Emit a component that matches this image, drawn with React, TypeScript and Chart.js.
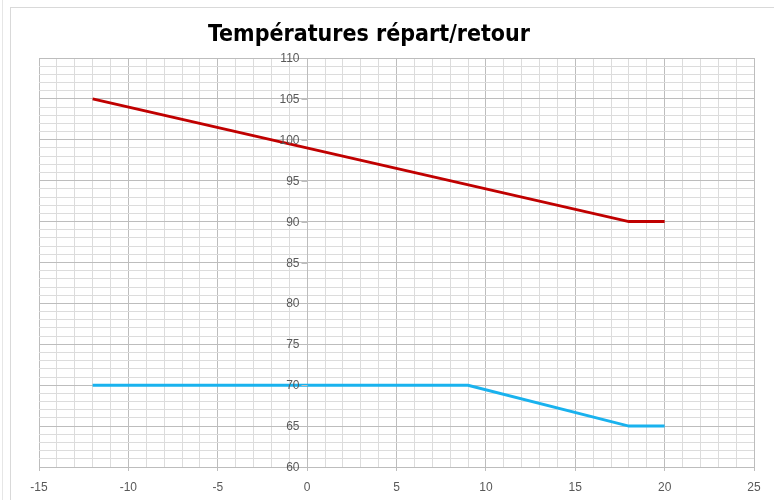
import React, { useEffect, useRef } from "react";
import { Chart, registerables } from "chart.js";

Chart.register(...registerables);

const TITLE = "Températures répart/retour";

const departX = [-12, 18, 20];
const departY = [105, 90, 90];

const retourX = [-12, 9, 18, 20];
const retourY = [70, 70, 65, 65];

const yTickLabels = [60, 65, 70, 75, 80, 85, 90, 95, 100, 105, 110];

const X_MIN = -15;
const X_MAX = 25;
const Y_MIN = 60;
const Y_MAX = 110;
const MAJOR = 5;
const MINOR = 1;

const RED = "#C00000";
const BLUE = "#19B2EE";
const MAJOR_GRID = "#bdbdbd";
const MINOR_GRID = "#dcdcdc";
const LABEL = "#595959";
const LABEL_FONT = "12px 'Liberation Sans', Arial, sans-serif";

const toPoints = (xs: number[], ys: number[]) => xs.map((x, i) => ({ x, y: ys[i] }));

const isMajor = (v: number) => Math.abs(v % MAJOR) < 1e-9;

const titlePlugin = {
  id: "customTitle",
  afterDraw(chart: any) {
    const { ctx } = chart;
    ctx.save();
    ctx.font = "bold 23px 'Liberation Sans Narrow', 'DejaVu Sans Condensed', Roboto, sans-serif";
    ctx.fillStyle = "#000000";
    ctx.textAlign = "center";
    ctx.textBaseline = "alphabetic";
    ctx.fillText(TITLE, 369, 41);
    ctx.restore();
  },
};

// y-axis labels and tick marks at the x=0 crossing, placed through the chart's scales
const yAxisLabelsPlugin = {
  id: "yAxisLabels",
  afterDatasetsDraw(chart: any) {
    const { ctx } = chart;
    const xs = chart.scales.x;
    const ys = chart.scales.y;
    const x0 = Math.round(xs.getPixelForValue(0)) + 0.5;
    ctx.save();
    ctx.font = LABEL_FONT;
    ctx.fillStyle = LABEL;
    ctx.textAlign = "right";
    ctx.textBaseline = "middle";
    ctx.strokeStyle = MAJOR_GRID;
    ctx.lineWidth = 1;
    yTickLabels.forEach((v) => {
      const y = Math.round(ys.getPixelForValue(v)) + 0.5;
      ctx.beginPath();
      ctx.moveTo(x0 - 6, y);
      ctx.lineTo(x0, y);
      ctx.stroke();
      ctx.fillText(String(v), x0 - 8, y);
    });
    ctx.restore();
  },
};

export default function App() {
  const ref = useRef<HTMLCanvasElement | null>(null);

  useEffect(() => {
    if (!ref.current) return;
    const chart = new Chart(ref.current, {
      type: "scatter",
      data: {
        datasets: [
          {
            label: "Départ",
            data: toPoints(departX, departY),
            showLine: true,
            borderColor: RED,
            backgroundColor: RED,
            borderWidth: 3,
            pointRadius: 0,
            tension: 0,
          },
          {
            label: "Retour",
            data: toPoints(retourX, retourY),
            showLine: true,
            borderColor: BLUE,
            backgroundColor: BLUE,
            borderWidth: 3,
            pointRadius: 0,
            tension: 0,
          },
        ],
      },
      plugins: [titlePlugin, yAxisLabelsPlugin],
      options: {
        responsive: false,
        animation: false,
        devicePixelRatio: 1,
        layout: { padding: { left: 39, right: 20, top: 58, bottom: 0 } },
        plugins: {
          legend: { display: false },
          title: { display: false },
          tooltip: { enabled: false },
        },
        scales: {
          x: {
            type: "linear",
            min: X_MIN,
            max: X_MAX,
            afterFit: (s: any) => {
              s.height = 33;
            },
            ticks: {
              stepSize: MINOR,
              autoSkip: false,
              maxRotation: 0,
              padding: 9,
              color: LABEL,
              font: { family: "'Liberation Sans', Arial, sans-serif", size: 12 },
              callback: (v: any) => (isMajor(Number(v)) ? String(v) : ""),
            },
            grid: {
              color: (c: any) => (c.tick && isMajor(c.tick.value) ? MAJOR_GRID : MINOR_GRID),
              tickColor: (c: any) => (c.tick && isMajor(c.tick.value) ? MAJOR_GRID : "rgba(0,0,0,0)"),
              tickLength: 4,
              lineWidth: 1,
            },
            border: { color: MAJOR_GRID },
          },
          y: {
            type: "linear",
            position: { x: 0 } as any,
            min: Y_MIN,
            max: Y_MAX,
            ticks: {
              stepSize: MINOR,
              autoSkip: false,
              color: "rgba(0,0,0,0)",
              callback: () => "",
            },
            grid: {
              color: (c: any) => (c.tick && isMajor(c.tick.value) ? MAJOR_GRID : MINOR_GRID),
              drawTicks: false,
              lineWidth: 1,
            },
            border: { color: MAJOR_GRID },
          },
        },
      },
    } as any);
    return () => chart.destroy();
  }, []);

  return (
    <div style={{ position: "fixed", left: 0, top: 0, width: 774, height: 500, background: "#ffffff" }}>
      <div
        style={{
          position: "absolute",
          left: 2,
          top: 0,
          width: 0,
          height: 500,
          borderLeft: "1px solid #e6e6e6",
        }}
      />
      <div
        style={{
          position: "absolute",
          left: 10,
          top: 7,
          right: 0,
          bottom: 0,
          borderLeft: "1px solid #d9d9d9",
          borderTop: "1px solid #d9d9d9",
        }}
      />
      <canvas ref={ref} width={774} height={500} style={{ position: "absolute", left: 0, top: 0 }} />
    </div>
  );
}
